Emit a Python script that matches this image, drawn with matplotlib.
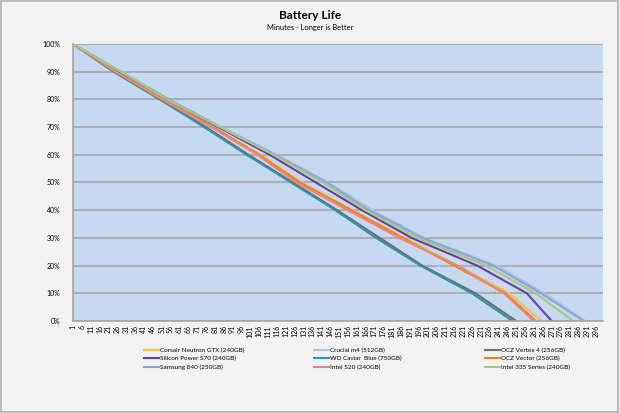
import matplotlib
matplotlib.use("Agg")
import matplotlib.pyplot as plt
from matplotlib.patches import Rectangle

plt.rcParams['font.family'] = ['Lato', 'DejaVu Sans']

levels = [100, 90, 80, 70, 60, 50, 40, 30, 20, 10, 0]

# minute at which each drive reached the level above
corsair = [1, 26, 52, 80, 107, 130, 159, 188, 218, 247, 265]
crucial = [1, 28, 55, 85, 116, 145, 170, 199, 240, 267, 290]
ocz_vertex4 = [1, 24, 50, 76, 100, 125, 150, 174, 198, 228, 251]
silicon = [1, 27, 54, 83, 112, 138, 164, 192, 229, 257, 271]
wd_blue = [1, 24, 50, 75, 99, 124, 149, 172, 197, 226, 249]
ocz_vector = [1, 25, 52, 80, 106, 129, 158, 187, 216, 245, 262]
samsung = [1, 28, 55, 84, 115, 144, 168, 198, 238, 265, 289]
intel520 = [1, 25, 51, 79, 105, 127, 156, 185, 218, 244, 261]
intel335 = [1, 28, 54, 84, 114, 142, 166, 195, 234, 262, 283]

names = ["Corsair Neutron GTX (240GB)", "Crucial m4 (512GB)", "OCZ Vertex 4 (256GB)",
         "Silicon Power S70 (240GB)", "WD Caviar  Blue (750GB)", "OCZ Vector (256GB)",
         "Samsung 840 (250GB)", "Intel 520 (240GB)", "Intel 335 Series (240GB)"]
series = [corsair, crucial, ocz_vertex4, silicon, wd_blue, ocz_vector, samsung, intel520, intel335]
colors = ["#F5C242", "#A9C4E6", "#6E6E6E", "#6B3FA0", "#2E93A8", "#EE7D30",
          "#86A6DC", "#E8877E", "#A9C878"]

xticks = list(range(1, 300, 5))

fig = plt.figure(figsize=(6.2, 4.13), dpi=100, facecolor="#F2F2F2")
fig.patches.append(Rectangle((0.002, 0.003), 0.995, 0.994, transform=fig.transFigure,
                             fill=False, edgecolor="#B0B0B0", linewidth=1.2))
ax = fig.add_axes([0.1177, 0.2228, 0.855, 0.6707])
ax.set_facecolor("#C5D9F1")

lines = []
for name, mins, c in zip(names, series, colors):
    ln, = ax.plot(mins, levels, color=c, linewidth=1.5, label=name)
    lines.append(ln)

ax.set_xlim(1, 300)
ax.set_ylim(0, 100)
ax.set_yticks(range(0, 101, 10))
ax.set_yticklabels([f"{v}%" for v in range(0, 101, 10)], fontsize=5)
ax.set_xticks(xticks)
ax.set_xticklabels([str(t) for t in xticks], rotation=90, fontsize=5)
ax.tick_params(axis='both', length=0, pad=3)
ax.tick_params(axis='y', pad=9)
ax.grid(axis='y', color="#A6A6A6", linewidth=1.2)
ax.set_axisbelow(True)
for s in ["top", "right"]:
    ax.spines[s].set_visible(False)
for s in ["left", "bottom"]:
    ax.spines[s].set_color("#A6A6A6")
    ax.spines[s].set_linewidth(1.2)

fig.text(0.5, 0.963, "Battery Life", ha="center", va="center", fontsize=8.5, fontweight="bold")
fig.text(0.5, 0.933, "Minutes - Longer is Better", ha="center", va="center", fontsize=5.4)

# legend in three equal-width columns (row-major order like Excel)
col_x = [0.228, 0.502, 0.778]
for k in range(3):
    idx = [k, k + 3, k + 6]
    leg = fig.legend([lines[i] for i in idx], [names[i] for i in idx],
                     loc="upper left", bbox_to_anchor=(col_x[k], 0.165), frameon=False,
                     fontsize=4.6, handlelength=2.4, handletextpad=0.15,
                     labelspacing=0.5, borderaxespad=0, borderpad=0.4)

fig.savefig("out.png", dpi=100, facecolor=fig.get_facecolor())
